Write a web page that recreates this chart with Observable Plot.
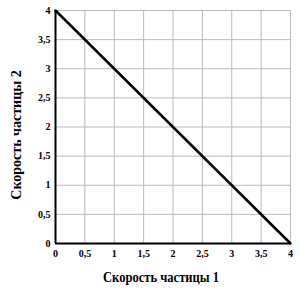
<!DOCTYPE html>
<html><head><meta charset="utf-8">
<script src="https://cdn.jsdelivr.net/npm/d3@7"></script>
<script src="https://cdn.jsdelivr.net/npm/@observablehq/plot@0.6"></script>
<style>body{margin:0;background:#fff}</style>
</head><body><div id="c"></div>
<script>
const ticks = [0, 0.5, 1, 1.5, 2, 2.5, 3, 3.5, 4];
const lineX = [0, 4];
const lineY = [4, 0];
const xLabel = "Скорость частицы 1";
const yLabel = "Скорость частицы 2";
const fmt = d => String(d).replace(".", ",");
const data = lineX.map((x, i) => ({x, y: lineY[i]}));
const chart = Plot.plot({
  width: 300, height: 290,
  marginLeft: 55, marginRight: 10, marginTop: 10, marginBottom: 47,
  style: {fontFamily: "Liberation Serif", fontWeight: "bold", fontSize: "10px", color: "#000", background: "#fff"},
  x: {domain: [0, 4]},
  y: {domain: [0, 4]},
  marks: [
    Plot.gridX(ticks, {stroke: "#bbb", strokeOpacity: 1}),
    Plot.gridY(ticks, {stroke: "#bbb", strokeOpacity: 1}),
    Plot.axisX(ticks, {tickSize: 0, tickPadding: 6, tickFormat: fmt, label: xLabel, labelAnchor: "center", labelArrow: "none", labelOffset: 38, fontSize: 10}),
    Plot.axisY(ticks, {tickSize: 0, tickPadding: 5, tickFormat: fmt, label: yLabel, labelAnchor: "center", labelArrow: "none", labelOffset: 44, fontSize: 10}),
    Plot.ruleX([0], {stroke: "#000", strokeWidth: 2}),
    Plot.ruleY([0], {stroke: "#000", strokeWidth: 2}),
    Plot.line(data, {x: "x", y: "y", stroke: "#000", strokeWidth: 2.5})
  ]
});
const xl = chart.querySelector("g[aria-label='x-axis label'] text");
if (xl) { xl.setAttribute("font-size", "14"); xl.setAttribute("textLength", "116"); xl.setAttribute("lengthAdjust", "spacingAndGlyphs"); xl.setAttribute("dx", "-12"); }
const yl = chart.querySelector("g[aria-label='y-axis label'] text");
if (yl) { yl.setAttribute("font-size", "14"); yl.setAttribute("dx", "-8"); }
document.getElementById("c").append(chart);
</script></body></html>
